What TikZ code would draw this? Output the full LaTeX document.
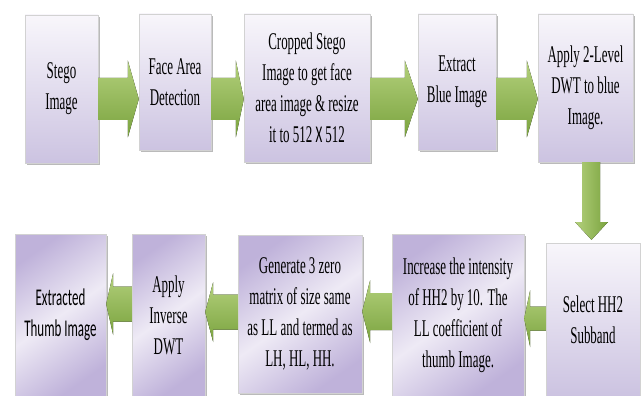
\documentclass[tikz,border=0pt]{standalone}
\usepackage{fontspec}
\usetikzlibrary{calc,shadows}
\newfontfamily\boxfont[FakeStretch=0.54]{Liberation Serif}
\newfontfamily\thumbfont[FakeStretch=0.54]{Carlito}
\definecolor{boxtop}{HTML}{F8F6FB}
\definecolor{boxbottom}{HTML}{CCC3E1}
\definecolor{boxpale}{HTML}{EEEAF5}
\definecolor{boxdeep}{HTML}{BFB2DA}
\definecolor{arrowlight}{HTML}{B3D07C}
\definecolor{arrowdark}{HTML}{7AA33E}

% block arrow pointing right: from node, to node, y centre, shaft half, head half, head length
\newcommand{\arrowright}[6]{%
  \fill[flowarrow]
    (#1.east |- 0,#3-#4) -- ($(#2.west |- 0,#3-#4)+(-#6,0)$)
    -- ($(#2.west |- 0,#3-#5)+(-#6,0)$) -- (#2.west |- 0,#3)
    -- ($(#2.west |- 0,#3+#5)+(-#6,0)$) -- ($(#2.west |- 0,#3+#4)+(-#6,0)$)
    -- (#1.east |- 0,#3+#4) -- cycle;}
% block arrow pointing left
\newcommand{\arrowleft}[6]{%
  \fill[flowarrow]
    (#1.west |- 0,#3-#4) -- ($(#2.east |- 0,#3-#4)+(#6,0)$)
    -- ($(#2.east |- 0,#3-#5)+(#6,0)$) -- (#2.east |- 0,#3)
    -- ($(#2.east |- 0,#3+#5)+(#6,0)$) -- ($(#2.east |- 0,#3+#4)+(#6,0)$)
    -- (#1.west |- 0,#3+#4) -- cycle;}

\begin{document}
\begin{tikzpicture}[x=1pt,y=-1pt,
    stepbase/.style={rectangle, draw=gray!35, line width=0.4pt, inner sep=0pt,
      align=center, text=black, font={\boxfont\fontsize{24}{31}\selectfont},
      drop shadow={shadow xshift=1.5pt, shadow yshift=-2pt, fill=black!45, opacity=0.6}},
    topbox/.style={stepbase, top color=boxtop, bottom color=boxbottom},
    lowbox/.style={stepbase, top color=boxdeep, bottom color=boxdeep,
      middle color=boxpale, shading angle=35},
    flowarrow/.style={top color=arrowlight, bottom color=arrowdark}]
  \useasboundingbox (0,0) rectangle (641,396);
  % upper row
  \node[topbox, minimum width=73pt, minimum height=148pt] (stego) at (61.5,89) {Stego\\Image};
  \node[topbox, minimum width=72pt, minimum height=136pt] (facedet) at (175,82) {Face Area\\Detection};
  \node[topbox, minimum width=126pt, minimum height=148pt] (crop) at (307,88)
    {Cropped Stego\\Image to get face\\area image \& resize\\it to 512 {\thumbfont X} 512};
  \node[topbox, minimum width=78pt, minimum height=136pt] (blueimg) at (457,82) {Extract\\Blue Image};
  \node[topbox, minimum width=95pt, minimum height=148pt] (dwt) at (585.5,88)
    {Apply 2-Level\\DWT to blue\\Image.};
  % lower row
  \node[topbox, minimum width=94pt, minimum height=153pt] (selecthh) at (593,319.5)
    {Select HH2\\Subband};
  \node[lowbox, minimum width=132pt, minimum height=162pt] (boost) at (458,315)
    {Increase the intensity\\of HH2 by 10. The\\LL coefficient of\\thumb Image.};
  \node[lowbox, minimum width=124pt, minimum height=158pt] (zeros) at (300,314)
    {Generate 3 zero\\matrix of size same\\as LL and termed as\\LH, HL, HH.};
  \node[lowbox, minimum width=73pt, minimum height=162pt] (idwt) at (168.5,315)
    {Apply\\Inverse\\DWT};
  \node[lowbox, minimum width=91pt, minimum height=162pt,
    font={\thumbfont\fontsize{24}{31}\selectfont}] (thumb) at (60.5,315)
    {Extracted\\Thumb Image};
  % arrows along the upper row
  \arrowright{stego}{facedet}{99}{21}{38.5}{11}
  \arrowright{facedet}{crop}{99}{21}{38.5}{8}
  \arrowright{crop}{blueimg}{99}{21}{38.5}{13}
  \arrowright{blueimg}{dwt}{99}{21}{38.5}{11}
  % down to the lower row
  \fill[left color=arrowlight, right color=arrowdark]
    (582,0 |- dwt.south) -- (582,222) -- (575,222)
    -- ($(selecthh.north -| 591.5,0)+(0,-3)$) -- (608,222) -- (600,222)
    -- (600,0 |- dwt.south) -- cycle;
  % arrows along the lower row
  \arrowleft{selecthh}{boost}{318.5}{12}{28.5}{6}
  \arrowleft{boost}{zeros}{311.5}{18.5}{31.5}{8}
  \arrowleft{zeros}{idwt}{312}{17.5}{30}{8}
  \arrowleft{idwt}{thumb}{304}{17.5}{31}{7}
\end{tikzpicture}
\end{document}
